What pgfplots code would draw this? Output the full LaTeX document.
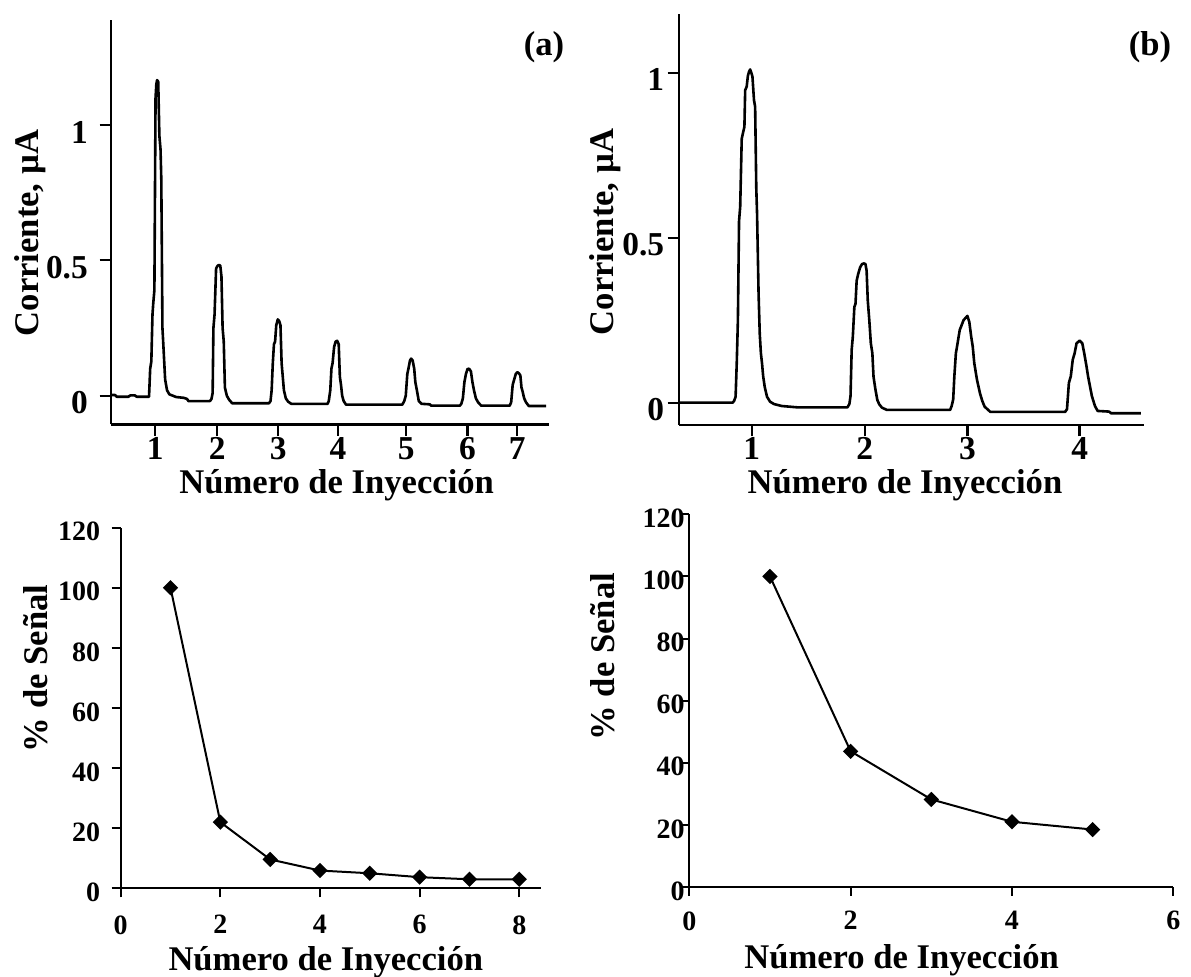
\documentclass[border=0pt]{standalone}
\usepackage{pgfplots}
\pgfplotsset{compat=1.18}
\usepackage{fontspec}
\setmainfont{Liberation Serif}
\newcommand{\lab}{\bfseries\fontsize{17.3}{17.3}\selectfont}
\pgfplotsset{
  myax/.style={scale only axis, anchor=south west,
    axis x line*=bottom, axis y line*=left,
    tick align=outside,
    clip=false},
  toptick/.style={major tick length=5.7pt,
    axis line style={line width=1.3pt,-},
    tick style={line width=1.15pt,black},
    ticklabel style={font=\bfseries\fontsize{16.7}{16.7}\selectfont}},
  bottick/.style={major tick length=4.5pt,
    axis line style={line width=1.05pt,-},
    tick style={line width=1pt,black},
    ticklabel style={font=\bfseries\fontsize{14}{14}\selectfont}},
}
\begin{document}
\begin{tikzpicture}
\path[use as bounding box] (0,0) rectangle (595.5pt,-488.5pt);

% ---------------- (a) top left
\begin{axis}[myax, toptick,
  at={(55.55pt,-212.15pt)}, width=218.8pt, height=202.15pt,
  xmin=290, xmax=1432, ymin=-0.1057, ymax=1.388,
  xtick={405,567,726,882,1060,1220,1350},
  xticklabels={1,2,3,4,5,6,7},
  ytick={0,0.5,1}, yticklabels={0,0.5,1},
  xticklabel style={inner sep=0pt, yshift=-0.6pt},
  yticklabel style={inner sep=0pt, xshift=-5.75pt, yshift=-3.5pt},
]
\addplot[black, line width=1.3pt, line join=round] coordinates {
(290,0.0025)(300,0.0025)(305,-0.004)(335,-0.004)(340,0.001)(352,0.001)(357,-0.004)(388,-0.004)
(389,-0.004)(392,0.10)(395,0.126)(398,0.30)(400,0.341)(403,0.39)(406,1.10)(408,1.15)(410,1.166)(413,1.16)(416,0.96)(419,0.91)(421,0.80)(424,0.25)(427,0.17)(431,0.06)(436,0.02)(442,0.005)(460,-0.005)(480,-0.008)(488,-0.012)(492,-0.02)(548,-0.02)
(552,-0.012)(555,0.01)(557,0.25)(560,0.30)(564,0.47)(568,0.48)(572,0.483)(575,0.48)(578,0.44)(581,0.25)(584,0.20)(587,0.03)(592,0.0)(598,-0.015)(606,-0.028)(702,-0.028)
(706,-0.02)(709,0.02)(712,0.12)(715,0.19)(718,0.20)(721,0.26)(725,0.282)(729,0.275)(732,0.26)(735,0.12)(738,0.07)(741,0.02)(746,-0.01)(752,-0.022)(760,-0.03)(855,-0.03)
(858,-0.02)(862,0.02)(865,0.10)(868,0.12)(872,0.18)(876,0.200)(880,0.203)(884,0.19)(887,0.07)(890,0.04)(893,0.0)(897,-0.02)(903,-0.033)(1050,-0.033)
(1055,-0.02)(1059,0.0)(1063,0.08)(1066,0.10)(1070,0.13)(1073,0.137)(1077,0.13)(1081,0.10)(1084,0.05)(1088,0.02)(1093,-0.02)(1100,-0.03)(1122,-0.032)(1125,-0.037)(1200,-0.037)
(1204,-0.03)(1208,-0.01)(1212,0.05)(1216,0.08)(1220,0.098)(1224,0.100)(1229,0.09)(1233,0.05)(1237,0.02)(1242,-0.01)(1248,-0.025)(1256,-0.037)(1330,-0.037)
(1334,-0.025)(1338,0.04)(1342,0.06)(1346,0.08)(1350,0.087)(1354,0.083)(1358,0.075)(1361,0.03)(1364,0.015)(1368,-0.01)(1373,-0.025)(1380,-0.038)(1425,-0.038)
};
\end{axis}

% ---------------- (b) top right
\begin{axis}[myax, toptick,
  at={(339.45pt,-212.5pt)}, width=232.35pt, height=205.5pt,
  xmin=232, xmax=1445, ymin=-0.0676, ymax=1.178,
  xtick={422,717,985,1278},
  xticklabels={1,2,3,4},
  ytick={0,0.5,1}, yticklabels={0,0.5,1},
  xticklabel style={inner sep=0pt, yshift=-0.3pt},
  yticklabel style={inner sep=0pt, xshift=-1.5pt, yshift=-3.5pt},
]
\addplot[black, line width=1.3pt, line join=round] coordinates {
(232,0)(372,0)(376,0.005)(380,0.018)(383,0.12)(386,0.25)(389,0.55)(392,0.594)(396,0.80)(399,0.816)(403,0.836)(405,0.947)(409,0.958)(412,0.99)(415,1.003)(418,1.01)(421,1.0)(424,0.988)(428,0.917)(431,0.897)(434,0.65)(436,0.574)(440,0.33)(443,0.21)(446,0.15)(449,0.119)(452,0.08)(456,0.048)(462,0.018)(470,0.003)(480,-0.004)(500,-0.01)(520,-0.012)(540,-0.014)(672,-0.014)
(677,-0.004)(680,0.02)(683,0.16)(686,0.2)(690,0.29)(693,0.3)(696,0.37)(700,0.39)(705,0.41)(710,0.42)(715,0.422)(719,0.42)(722,0.40)(725,0.31)(729,0.25)(733,0.18)(737,0.15)(740,0.079)(745,0.04)(750,0.008)(755,-0.005)(762,-0.015)(775,-0.022)(940,-0.022)
(944,-0.01)(948,0.01)(951,0.08)(955,0.15)(958,0.17)(965,0.22)(975,0.25)(985,0.263)(990,0.245)(995,0.20)(999,0.17)(1003,0.12)(1010,0.07)(1018,0.028)(1024,0.005)(1030,-0.012)(1045,-0.028)(1240,-0.028)
(1245,-0.02)(1250,0.06)(1255,0.08)(1260,0.13)(1265,0.15)(1270,0.18)(1278,0.188)(1285,0.18)(1290,0.15)(1296,0.11)(1300,0.08)(1305,0.05)(1310,0.02)(1318,-0.01)(1325,-0.025)(1355,-0.027)(1360,-0.032)(1438,-0.032)
};
\end{axis}

% ---------------- (c) bottom left
\begin{axis}[myax, bottick,
  at={(60.35pt,-444.15pt)}, width=210pt, height=180.3pt,
  xmin=0, xmax=8.43, ymin=0, ymax=120,
  xtick={0,2,4,6,8}, xticklabels={0,2,4,6,8},
  ytick={0,20,40,60,80,100,120}, yticklabels={0,20,40,60,80,100,120},
  xticklabel style={inner sep=0pt, yshift=-8.85pt},
  yticklabel style={inner sep=0pt, xshift=-5.65pt, yshift=-2pt},
]
\addplot[black, line width=1pt, mark=square*, mark size=2.2pt,
  mark options={rotate=45, solid}] coordinates {
(1,100)(2,22)(3,9.6)(4,5.9)(5,5)(6,3.7)(7,3)(8,3)
};
\end{axis}

% ---------------- (d) bottom right
\begin{axis}[myax, bottick,
  at={(344.65pt,-443.5pt)}, width=242pt, height=186.35pt,
  xmin=0, xmax=6, ymin=0, ymax=120,
  xtick={0,2,4,6}, xticklabels={0,2,4,6},
  ytick={0,20,40,60,80,100,120}, yticklabels={0,20,40,60,80,100,120},
  xticklabel style={inner sep=0pt, yshift=-7.5pt},
  yticklabel style={inner sep=0pt, xshift=2.35pt, yshift=-2pt},
]
\addplot[black, line width=1pt, mark=square*, mark size=2.2pt,
  mark options={rotate=45, solid}] coordinates {
(1,100)(2,43.7)(3,28.2)(4,21)(5,18.5)
};
\end{axis}

% ---------------- labels
\node[rotate=90, anchor=base, inner sep=0pt] at (19.15pt,-116.5pt) {\lab Corriente, µA};
\node[rotate=90, anchor=base, inner sep=0pt] at (306.5pt,-116pt) {\lab Corriente, µA};
\node[rotate=90, anchor=base, inner sep=0pt] at (23.95pt,-334.2pt) {\lab \% de Señal};
\node[rotate=90, anchor=base, inner sep=0pt] at (307.45pt,-328.35pt) {\lab \% de Señal};
\node[anchor=base, inner sep=0pt] at (168.35pt,-246.8pt) {\lab Número de Inyección};
\node[anchor=base, inner sep=0pt] at (452.5pt,-246.8pt) {\lab Número de Inyección};
\node[anchor=base, inner sep=0pt] at (162.9pt,-485.2pt) {\lab Número de Inyección};
\node[anchor=base, inner sep=0pt] at (450.8pt,-484.5pt) {\lab Número de Inyección};
\node[inner sep=0pt] at (272pt,-23.5pt) {\lab (a)};
\node[inner sep=0pt] at (575pt,-23.5pt) {\lab (b)};
\end{tikzpicture}
\end{document}
